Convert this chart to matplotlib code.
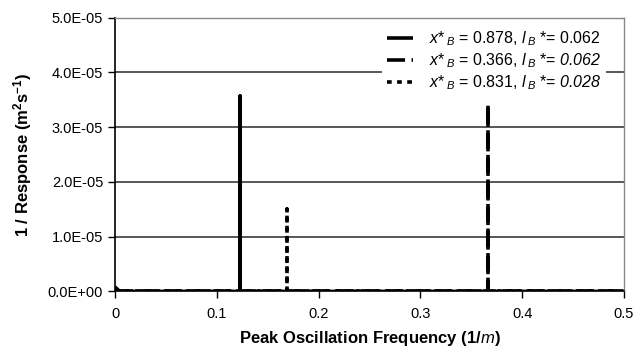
import matplotlib
matplotlib.use("Agg")
import matplotlib.pyplot as plt
from matplotlib.ticker import FixedLocator

plt.rcParams['font.family'] = ['Liberation Sans', 'DejaVu Sans']
plt.rcParams['mathtext.fontset'] = 'custom'
plt.rcParams['mathtext.rm'] = 'Liberation Sans'
plt.rcParams['mathtext.it'] = 'Liberation Sans:italic'
plt.rcParams['mathtext.sf'] = 'Liberation Sans:italic'
plt.rcParams['mathtext.bf'] = 'Liberation Sans:bold'

# Data
freq_a = [0.0, 0.004, 0.008, 0.1229, 0.1229, 0.1229, 0.5]
resp_a = [8e-7, 1e-7, 0.0, 0.0, 3.57e-5, 0.0, 0.0]
freq_b = [0.0, 0.366, 0.366, 0.366, 0.5]
resp_b = [0.0, 0.0, 3.42e-5, 0.0, 0.0]
freq_c = [0.0, 0.169, 0.169, 0.169, 0.5]
resp_c = [0.0, 0.0, 1.5e-5, 0.0, 0.0]
labels = [r"$x$*$\,{}_B$ = 0.878, $l$$\,{}_B$ *= 0.062",
          r"$x$*$\,{}_B$ = 0.366, $l$$\,{}_B$ *= $\mathsf{0.062}$",
          r"$x$*$\,{}_B$ = 0.831, $l$$\,{}_B$ *= $\mathsf{0.028}$"]
xticks = [0, 0.1, 0.2, 0.3, 0.4, 0.5]
xticklabels = ["0", "0.1", "0.2", "0.3", "0.4", "0.5"]
yticks = [0, 1e-5, 2e-5, 3e-5, 4e-5, 5e-5]
yticklabels = ["0.0E+00", "1.0E-05", "2.0E-05", "3.0E-05", "4.0E-05", "5.0E-05"]

fig = plt.figure(figsize=(6.38, 3.57), dpi=100)
ax = fig.add_axes([115/638, 1 - 291.4/357, (624-115)/638, (291.4-17.7)/357])

for yv in yticks[1:-1]:
    ax.axhline(yv, color='#2a2a2a', lw=1.1, zorder=1)

la, = ax.plot(freq_a, resp_a, color='black', lw=2.6, solid_capstyle='butt', zorder=3)
lb, = ax.plot(freq_b, resp_b, color='black', lw=2.6, dashes=(5, 1.8), zorder=3)
lc, = ax.plot(freq_c, resp_c, color='black', lw=2.6, dashes=(1.3, 1.5), zorder=3)

ax.set_xlim(0, 0.5)
ax.set_ylim(0, 5e-5)
ax.xaxis.set_major_locator(FixedLocator(xticks))
ax.set_xticklabels(xticklabels)
ax.yaxis.set_major_locator(FixedLocator(yticks))
ax.set_yticklabels(yticklabels)
ax.tick_params(axis='both', direction='out', length=5, width=1, labelsize=10.5, color='black')
ax.tick_params(axis='x', pad=6)

for s in ['left', 'bottom']:
    ax.spines[s].set_color('black')
    ax.spines[s].set_linewidth(1.2)
for s in ['top', 'right']:
    ax.spines[s].set_color('#888888')
    ax.spines[s].set_linestyle((0, (1, 1)))
    ax.spines[s].set_linewidth(1.0)

ax.set_xlabel(r"Peak Oscillation Frequency (1/$\mathit{m}$)", fontsize=12, fontweight='bold', labelpad=6)
ax.set_ylabel(r"1 / Response (m$^\mathbf{2}$s$^\mathbf{-1}$)", fontsize=12, fontweight='bold', labelpad=10)

leg = ax.legend([la, lb, lc], labels, loc='upper right', bbox_to_anchor=(0.965, 0.975),
                frameon=True, fontsize=11.5, handlelength=1.6, handletextpad=1.0,
                labelspacing=0.2, borderaxespad=0, borderpad=0.3)
leg.get_frame().set_edgecolor('none')
leg.get_frame().set_facecolor('white')
leg.get_frame().set_alpha(1)
leg.set_zorder(5)

fig.savefig("out.png", dpi=100)
